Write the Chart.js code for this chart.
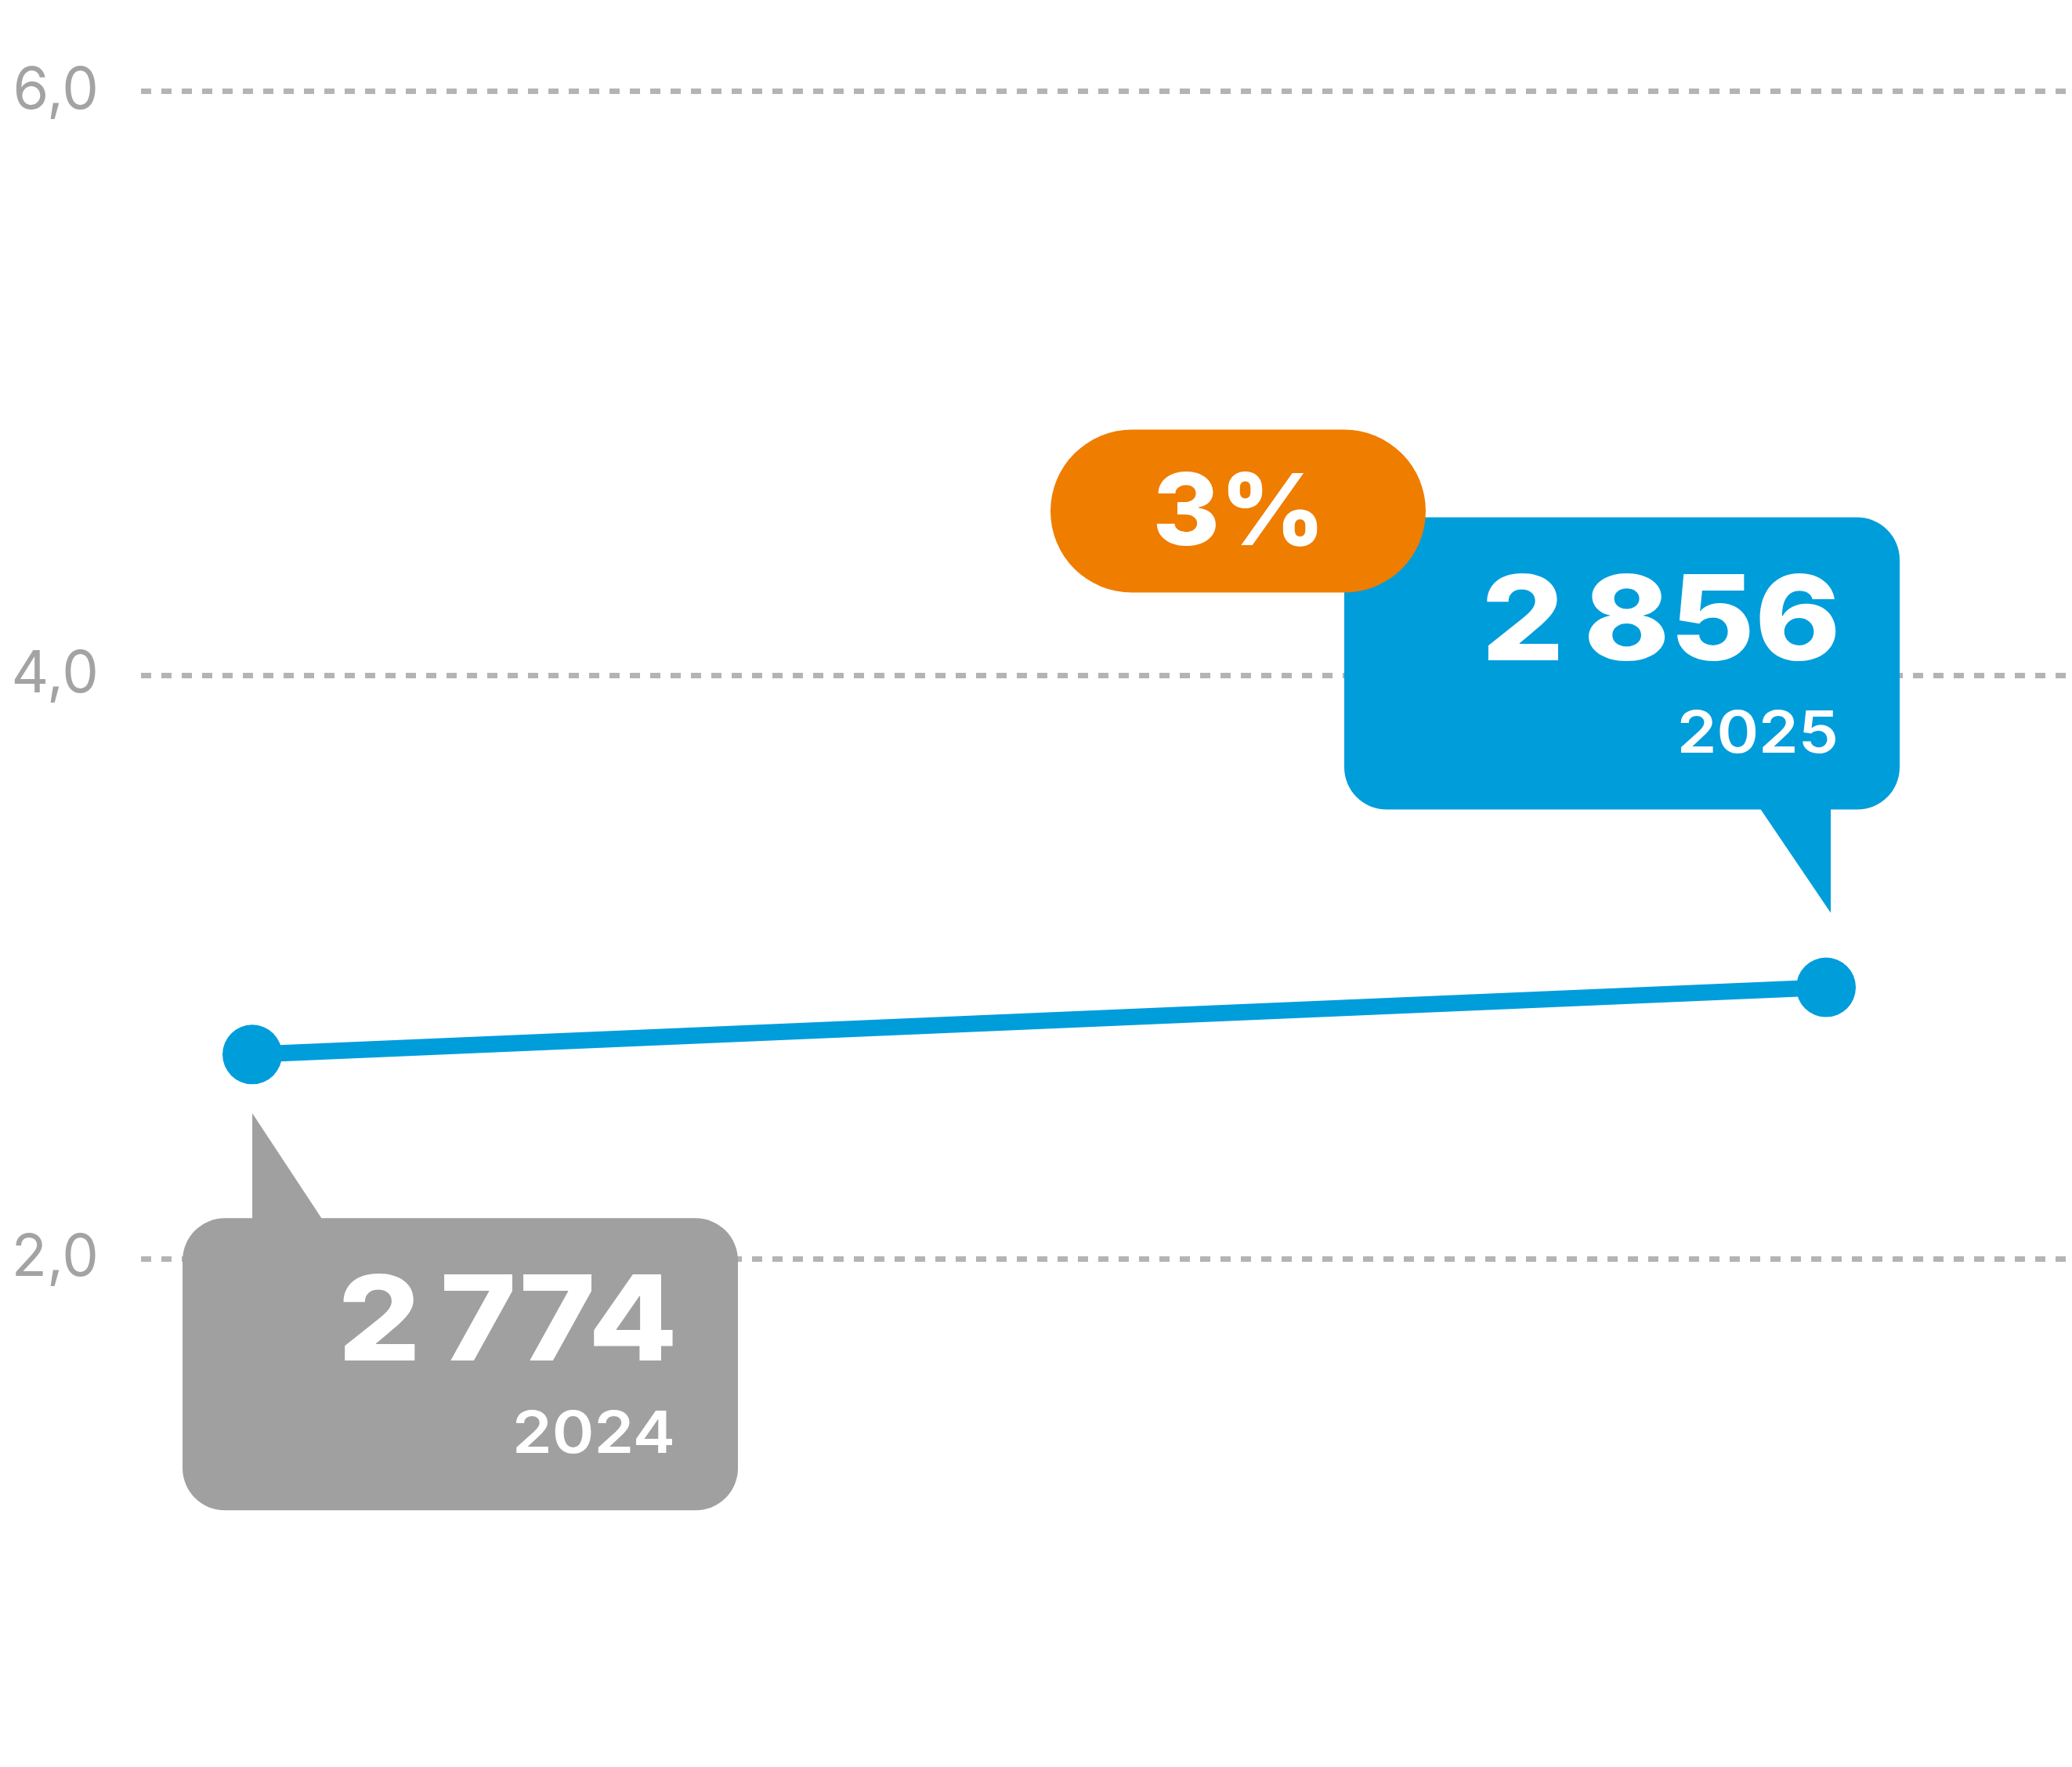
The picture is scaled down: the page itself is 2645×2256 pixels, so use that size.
<!DOCTYPE html>
<html>
<head>
<meta charset="utf-8">
<script src="https://cdn.jsdelivr.net/npm/chart.js@4.4.0/dist/chart.umd.min.js"></script>
<style>
  html, body { margin: 0; padding: 0; background: #fff; }
  #wrap { width: 2645px; height: 2256px; position: relative; }
</style>
</head>
<body>
<div id="wrap"><canvas id="chart"></canvas></div>
<script>
// Données
const years = ['2024', '2025'];
const xValues = [2024, 2025];
const plotted = [2.70, 2.93];
const valueLabels = ['2 774', '2 856'];
const changeLabel = '3%';
const yTicks = [2, 4, 6];

const BLUE = '#009DDB';
const GREY = '#A0A0A0';
const ORANGE = '#EF7D00';

function roundRect(ctx, x, y, w, h, r) {
    ctx.beginPath();
    ctx.moveTo(x + r, y);
    ctx.lineTo(x + w - r, y);
    ctx.arcTo(x + w, y, x + w, y + r, r);
    ctx.lineTo(x + w, y + h - r);
    ctx.arcTo(x + w, y + h, x + w - r, y + h, r);
    ctx.lineTo(x + r, y + h);
    ctx.arcTo(x, y + h, x, y + h - r, r);
    ctx.lineTo(x, y + r);
    ctx.arcTo(x, y, x + r, y, r);
    ctx.closePath();
}

// texte élargi horizontalement (police plus large que Inter)
function wideText(ctx, text, x, y, sx) {
    ctx.save();
    ctx.translate(x, y);
    ctx.scale(sx, 1);
    ctx.fillText(text, 0, 0);
    ctx.restore();
}

function drawTexts(ctx, right, top, big, year) {
    ctx.fillStyle = '#fff';
    ctx.textAlign = 'right';
    ctx.textBaseline = 'alphabetic';
    ctx.font = '800 151px Inter';
    wideText(ctx, big.replace(' ', '\u2009'), right + 9, top + 182, 1.1);
    ctx.font = '600 74px Inter';
    wideText(ctx, year, right + 6, top + 300, 1.1);
}

// Bulles autour des points
const calloutPlugin = {
    id: 'callouts',
    afterDatasetsDraw(chart) {
        const ctx = chart.ctx;
        const pts = chart.getDatasetMeta(0).data;
        const w = 709, h = 373, r = 54;
        ctx.save();

        // 2024 - bulle grise sous le point
        const p0 = pts[0];
        const gx = p0.x - 89, gy = p0.y + 209;
        ctx.fillStyle = GREY;
        roundRect(ctx, gx, gy, w, h, r);
        ctx.fill();
        ctx.beginPath();
        ctx.moveTo(p0.x, p0.y + 75);
        ctx.lineTo(p0.x, gy + 1);
        ctx.lineTo(p0.x + 89, gy + 1);
        ctx.closePath();
        ctx.fill();
        drawTexts(ctx, gx + w - 86, gy, valueLabels[0], years[0]);

        // 2025 - bulle bleue au-dessus du point
        const p1 = pts[1];
        const bx = p1.x + 94 - w, by = p1.y - 227 - h;
        ctx.fillStyle = BLUE;
        roundRect(ctx, bx, by, w, h, r);
        ctx.fill();
        ctx.beginPath();
        ctx.moveTo(p1.x + 6, p1.y - 95);
        ctx.lineTo(p1.x + 6, by + h - 1);
        ctx.lineTo(p1.x - 84, by + h - 1);
        ctx.closePath();
        ctx.fill();
        drawTexts(ctx, bx + w - 84, by, valueLabels[1], years[1]);

        // Variation - pastille orange
        const ow = 479, oh = 208;
        const ox = bx + 104 - ow, oy = by + 96 - oh;
        ctx.fillStyle = ORANGE;
        roundRect(ctx, ox, oy, ow, oh, oh / 2);
        ctx.fill();
        ctx.fillStyle = '#fff';
        ctx.textAlign = 'center';
        ctx.textBaseline = 'alphabetic';
        ctx.font = '800 127px Inter';
        wideText(ctx, changeLabel, ox + ow / 2 + 1, oy + 147, 1.03);

        ctx.restore();
    }
};

new Chart(document.getElementById('chart'), {
    type: 'line',
    data: {
        datasets: [{
            data: xValues.map((x, i) => ({ x: x, y: plotted[i] })),
            borderColor: BLUE,
            backgroundColor: BLUE,
            borderWidth: 21,
            pointRadius: 38,
            pointBorderWidth: 0,
            pointBackgroundColor: BLUE,
            tension: 0,
            clip: false
        }]
    },
    options: {
        responsive: true,
        maintainAspectRatio: false,
        animation: false,
        layout: { padding: 0, autoPadding: false },
        plugins: { legend: { display: false }, tooltip: { enabled: false } },
        scales: {
            x: {
                type: 'linear',
                display: false,
                min: 2023.9293,
                max: 2025.1563
            },
            y: {
                min: 0.258,
                max: 6.314,
                afterBuildTicks: scale => { scale.ticks = yTicks.map(v => ({ value: v })); },
                afterFit: scale => {
                    scale.width = 180;
                    scale.paddingTop = 0;
                    scale.paddingBottom = 0;
                },
                grid: { color: '#B4B4B4', lineWidth: 7, drawTicks: false },
                border: { display: false, dash: [13, 13] },
                ticks: {
                    color: '#A3A3A3',
                    padding: 54,
                    font: { family: 'Inter', size: 74, weight: '400' },
                    callback: v => v.toFixed(1).replace('.', ',')
                }
            }
        }
    },
    plugins: [calloutPlugin]
});
</script>
</body>
</html>
